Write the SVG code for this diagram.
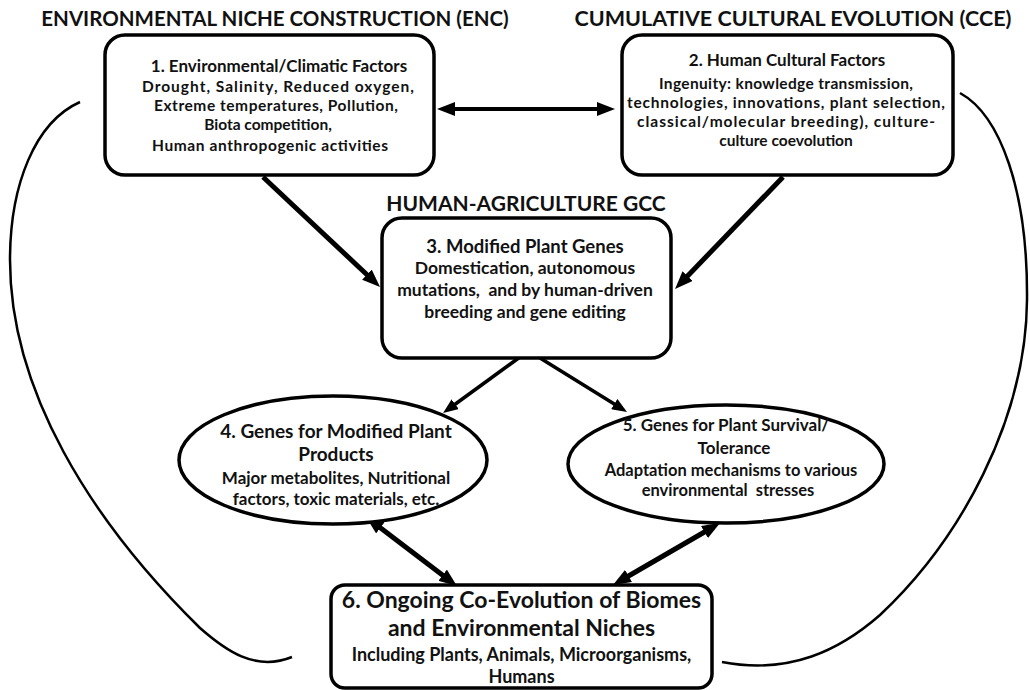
<svg xmlns="http://www.w3.org/2000/svg" width="1030" height="690" viewBox="0 0 1030 690">
<defs>
<style>
text{font-family:Lato,"Open Sans","Liberation Sans",sans-serif;font-weight:bold;fill:#111;text-anchor:middle}
.title{font-size:20.5px}
.hd{font-size:17px}
.sb{font-size:15.5px}
.hd6{font-size:23px}
.sb6{font-size:18px}
.pre{white-space:pre}
.node{fill:#fff;stroke:#000;stroke-width:3.5}
.c{fill:none;stroke:#000;stroke-linecap:butt}
.loop{fill:none;stroke:#000;stroke-width:2.5}
</style>
<marker id="ah" markerUnits="userSpaceOnUse" markerWidth="18" markerHeight="14" viewBox="0 0 18 14" refX="10" refY="7" orient="auto-start-reverse"><path d="M0,0 L18,7 L0,14 z" fill="#000"/></marker>
<marker id="as" markerUnits="userSpaceOnUse" markerWidth="15" markerHeight="12" viewBox="0 0 15 12" refX="9" refY="6" orient="auto-start-reverse"><path d="M0,0 L15,6 L0,12 z" fill="#000"/></marker>
</defs>
<rect width="1030" height="690" fill="#fff"/>
<g id="titles">
<text class="title" x="275" y="26">ENVIRONMENTAL NICHE CONSTRUCTION (ENC)</text>
<text class="title" x="793" y="26" style="font-size:21.5px">CUMULATIVE CULTURAL EVOLUTION (CCE)</text>
<text class="title" x="526" y="211" style="font-size:21px">HUMAN-AGRICULTURE GCC</text>
</g>
<g id="connectors">
<path class="loop" d="M80,102 C35,122 10,185 10,260 C10,390 90,520 200,628 C225,650 255,672 292,657"/>
<path class="loop" d="M960,93 C1000,115 1028,190 1027,300 C1026,420 960,540 880,615 C840,650 790,675 722,662"/>
<line class="c" x1="445" y1="109" x2="607" y2="109" stroke-width="4" marker-start="url(#ah)" marker-end="url(#ah)"/>
<line class="c" x1="263" y1="177" x2="374.2" y2="281.5" stroke-width="5" marker-end="url(#ah)"/>
<line class="c" x1="783" y1="177" x2="680.6" y2="283.2" stroke-width="5" marker-end="url(#ah)"/>
<line class="c" x1="520" y1="357" x2="447.9" y2="409.5" stroke-width="3.5" marker-end="url(#as)"/>
<line class="c" x1="540" y1="358" x2="621.9" y2="408.8" stroke-width="3.5" marker-end="url(#as)"/>
<line class="c" x1="372.4" y1="521.8" x2="450.6" y2="581.2" stroke-width="5" marker-start="url(#ah)" marker-end="url(#ah)"/>
<line class="c" x1="713.1" y1="527" x2="619.9" y2="581" stroke-width="5" marker-start="url(#ah)" marker-end="url(#ah)"/>
</g>
<g id="node1">
<rect class="node" x="105" y="35" width="329" height="140" rx="20"/>
<text class="hd" x="279" y="72">1. Environmental/Climatic Factors</text>
<text class="sb" x="278" y="92" textLength="272" lengthAdjust="spacing">Drought, Salinity, Reduced oxygen,</text>
<text class="sb" x="276" y="111" textLength="244" lengthAdjust="spacing">Extreme temperatures, Pollution,</text>
<text class="sb" x="268" y="130">Biota competition,</text>
<text class="sb" x="270" y="151" textLength="236" lengthAdjust="spacing">Human anthropogenic activities</text>
</g>
<g id="node2">
<rect class="node" x="622" y="35" width="331" height="140" rx="20"/>
<text class="hd" x="787" y="66">2. Human Cultural Factors</text>
<text class="sb" x="786" y="89" textLength="254" lengthAdjust="spacing">Ingenuity: knowledge transmission,</text>
<text class="sb" x="786" y="108" textLength="318" lengthAdjust="spacing">technologies, innovations, plant selection,</text>
<text class="sb" x="786" y="127" textLength="298" lengthAdjust="spacing">classical/molecular breeding), culture-</text>
<text class="sb" x="786" y="146">culture coevolution</text>
</g>
<g id="node3">
<rect class="node" x="382" y="218" width="289" height="140" rx="20"/>
<text class="hd" x="525" y="253" style="font-size:18.5px">3. Modified Plant Genes</text>
<text class="sb" x="525" y="274" style="font-size:17.5px">Domestication, autonomous</text>
<text class="sb pre" x="525" y="296" style="font-size:17.5px">mutations,  and by human-driven</text>
<text class="sb" x="525" y="318" style="font-size:17.5px">breeding and gene editing</text>
</g>
<g id="node4">
<ellipse class="node" cx="333" cy="460" rx="154" ry="64"/>
<text class="hd" x="336" y="438" style="font-size:19px">4. Genes for Modified Plant</text>
<text class="hd" x="336" y="461" style="font-size:19px">Products</text>
<text class="sb" x="336" y="484" style="font-size:17px">Major metabolites, Nutritional</text>
<text class="sb" x="336" y="505" style="font-size:17px">factors, toxic materials, etc.</text>
</g>
<g id="node5">
<ellipse class="node" cx="726" cy="464" rx="158" ry="59"/>
<text class="hd" x="726" y="431">5. Genes for Plant Survival/</text>
<text class="hd" x="734" y="454">Tolerance</text>
<text class="sb" x="731" y="476" style="font-size:16.5px">Adaptation mechanisms to various</text>
<text class="sb pre" x="728" y="496" style="font-size:16.5px">environmental  stresses</text>
</g>
<g id="node6">
<rect class="node" x="331" y="585" width="381" height="103" rx="14"/>
<text class="hd6" x="521.5" y="608">6. Ongoing Co-Evolution of Biomes</text>
<text class="hd6" x="521.5" y="636">and Environmental Niches</text>
<text class="sb6" x="521.5" y="661">Including Plants, Animals, Microorganisms,</text>
<text class="sb6" x="521.5" y="683">Humans</text>
</g>
</svg>
